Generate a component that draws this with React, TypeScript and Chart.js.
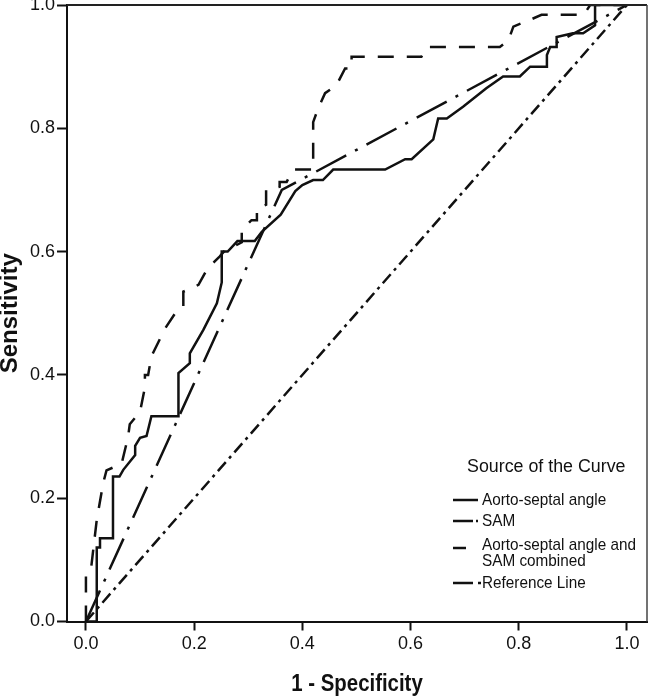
import React, { useEffect, useRef } from "react";
import { Chart, registerables } from "chart.js";

Chart.register(...registerables);

// ---- data ----
const xTickValues = [0, 0.2, 0.4, 0.6, 0.8, 1.0];
const yTickValues = [0, 0.2, 0.4, 0.6, 0.8, 1.0];

const xAxisTitle = "1 - Specificity";
const yAxisTitle = "Sensitivity";
const legendTitle = "Source of the Curve";
const legendLabels = ["Aorto-septal angle", "SAM", "Aorto-septal angle and\nSAM combined", "Reference Line"];

// Aorto-septal angle (solid)
const angleFpr = [0, 0.02, 0.02, 0.026, 0.026, 0.05, 0.05, 0.062, 0.069, 0.091, 0.091, 0.1, 0.112, 0.121, 0.171, 0.171, 0.192, 0.192, 0.217, 0.242, 0.251, 0.251, 0.262, 0.28, 0.312, 0.325, 0.36, 0.387, 0.4, 0.42, 0.438, 0.457, 0.553, 0.59, 0.602, 0.642, 0.651, 0.667, 0.697, 0.74, 0.771, 0.802, 0.821, 0.852, 0.852, 0.858, 0.87, 0.87, 0.9, 0.919, 0.941, 0.941, 1.0];
const angleTpr = [0, 0, 0.12, 0.12, 0.135, 0.135, 0.235, 0.235, 0.246, 0.27, 0.285, 0.298, 0.301, 0.333, 0.333, 0.403, 0.419, 0.435, 0.473, 0.516, 0.55, 0.6, 0.6, 0.617, 0.617, 0.632, 0.66, 0.698, 0.708, 0.716, 0.716, 0.733, 0.733, 0.75, 0.75, 0.782, 0.816, 0.816, 0.835, 0.865, 0.884, 0.884, 0.9, 0.9, 0.919, 0.932, 0.932, 0.948, 0.954, 0.954, 0.967, 1.0, 1.0];

// SAM (dash-dot)
const samFpr = [0, 0.362, 1.0];
const samTpr = [0, 0.7, 1.0];

// Aorto-septal angle and SAM combined (dashed)
const combinedFpr = [0, 0, 0.01, 0.02, 0.032, 0.038, 0.066, 0.078, 0.081, 0.1, 0.109, 0.109, 0.115, 0.121, 0.146, 0.165, 0.18, 0.18, 0.208, 0.223, 0.238, 0.247, 0.255, 0.288, 0.288, 0.306, 0.316, 0.316, 0.333, 0.333, 0.358, 0.358, 0.371, 0.383, 0.42, 0.42, 0.429, 0.442, 0.463, 0.479, 0.491, 0.491, 0.62, 0.63, 0.765, 0.781, 0.79, 0.821, 0.842, 0.92, 0.932, 1.0];
const combinedTpr = [0, 0.08, 0.09, 0.165, 0.225, 0.245, 0.256, 0.3, 0.32, 0.34, 0.38, 0.4, 0.4, 0.43, 0.475, 0.5, 0.508, 0.535, 0.546, 0.57, 0.584, 0.592, 0.6, 0.615, 0.635, 0.651, 0.651, 0.67, 0.676, 0.7, 0.705, 0.713, 0.713, 0.733, 0.733, 0.81, 0.832, 0.857, 0.87, 0.897, 0.897, 0.916, 0.916, 0.932, 0.932, 0.943, 0.965, 0.976, 0.984, 0.984, 1.0, 1.0];

// Reference line
const refFpr = [0, 1];
const refTpr = [0, 1];

// ---- styles ----
const SANS = "'Liberation Sans', Arial, Helvetica, sans-serif";
const INK = "#111";

const pts = (xs: number[], ys: number[]) => xs.map((x, i) => ({ x, y: ys[i] }));

const dashSolid: number[] = [];
const dashSam = [34, 10, 3, 10];
const dashCombined = [16, 13];
const dashRef = [12, 5, 3, 5];

// draw text horizontally condensed (the reference image is horizontally squeezed)
function squeezedText(ctx: any, text: string, x: number, y: number, sx: number) {
  ctx.save();
  ctx.translate(x, y);
  ctx.scale(sx, 1);
  ctx.fillText(text, 0, 0);
  ctx.restore();
}

const decorPlugin = {
  id: "decor",
  afterDraw(chart: any) {
    const { ctx, chartArea: a } = chart;
    ctx.save();
    // frame (top & right)
    ctx.setLineDash([]);
    ctx.strokeStyle = "#222";
    ctx.lineWidth = 2;
    ctx.beginPath();
    ctx.moveTo(a.left, a.top);
    ctx.lineTo(a.right, a.top);
    ctx.stroke();
    ctx.strokeStyle = "#444";
    ctx.lineWidth = 1.5;
    ctx.beginPath();
    ctx.moveTo(a.right, a.top);
    ctx.lineTo(a.right, a.bottom);
    ctx.stroke();

    // axis titles
    ctx.fillStyle = INK;
    ctx.textAlign = "center";
    ctx.textBaseline = "middle";
    ctx.font = `bold 24px ${SANS}`;
    squeezedText(ctx, xAxisTitle, (a.left + a.right) / 2, 684, 0.85);
    ctx.save();
    ctx.translate(10, (a.top + a.bottom) / 2);
    ctx.rotate(-Math.PI / 2);
    ctx.fillText(yAxisTitle, 0, 0);
    ctx.restore();

    // legend
    ctx.textAlign = "left";
    ctx.font = `18px ${SANS}`;
    squeezedText(ctx, legendTitle, 467, 467, 0.99);
    ctx.font = `17px ${SANS}`;
    const sx0 = 453;
    const sx1 = 478;
    const tx = 482;
    const rows = [
      { y: [500], sample: 500, dash: [] as number[], end: sx1 },
      { y: [521], sample: 521, dash: [20, 3, 2, 100], end: sx1 + 1 },
      { y: [545, 561], sample: 548, dash: [] as number[], end: sx0 + 13 },
      { y: [583], sample: 583, dash: [20, 5, 3, 100], end: sx1 + 3 },
    ];
    rows.forEach((r, i) => {
      ctx.strokeStyle = INK;
      ctx.lineWidth = 2.5;
      ctx.setLineDash(r.dash);
      ctx.beginPath();
      ctx.moveTo(sx0, r.sample);
      ctx.lineTo(r.end, r.sample);
      ctx.stroke();
      const lines = legendLabels[i].split("\n");
      lines.forEach((t, j) => squeezedText(ctx, t, tx, r.y[j], 0.9));
    });
    ctx.restore();
  },
};

export default function App() {
  const ref = useRef<HTMLCanvasElement | null>(null);
  useEffect(() => {
    if (!ref.current) return;
    const lineDs = (label: string, xs: number[], ys: number[], dash: number[]) => ({
      label,
      data: pts(xs, ys),
      showLine: true,
      borderColor: INK,
      backgroundColor: INK,
      borderWidth: 2.5,
      borderDash: dash,
      pointRadius: 0,
      tension: 0,
      fill: false,
    });
    const tickFont = { family: SANS, size: 18 };
    const chart = new Chart(ref.current, {
      type: "scatter",
      data: {
        datasets: [
          lineDs("Reference Line", refFpr, refTpr, dashRef),
          lineDs("SAM", samFpr, samTpr, dashSam),
          lineDs("Aorto-septal angle and SAM combined", combinedFpr, combinedTpr, dashCombined),
          lineDs("Aorto-septal angle", angleFpr, angleTpr, dashSolid),
        ],
      },
      options: {
        responsive: false,
        animation: false,
        layout: { padding: { top: 5, right: 3, left: 0, bottom: 0 } },
        plugins: { legend: { display: false }, tooltip: { enabled: false } },
        scales: {
          x: {
            type: "linear",
            min: -0.035,
            max: 1.037,
            afterBuildTicks: (s: any) => {
              s.ticks = xTickValues.map((v) => ({ value: v }));
            },
            afterFit: (s: any) => {
              s.height = 77.5;
              s.paddingLeft = 0;
              s.paddingRight = 0;
            },
            ticks: {
              callback: (v: any) => Number(v).toFixed(1),
              font: tickFont,
              color: INK,
              padding: 3,
              maxRotation: 0,
              autoSkip: false,
            },
            grid: { display: true, drawOnChartArea: false, drawTicks: true, tickLength: 9, tickWidth: 2, tickColor: INK },
            border: { display: true, width: 2, color: INK },
          },
          y: {
            type: "linear",
            min: 0,
            max: 1,
            afterBuildTicks: (s: any) => {
              s.ticks = yTickValues.map((v) => ({ value: v }));
            },
            afterFit: (s: any) => {
              s.width = 67;
              s.paddingTop = 0;
              s.paddingBottom = 0;
            },
            ticks: {
              callback: (v: any) => Number(v).toFixed(1),
              font: tickFont,
              color: INK,
              padding: 2,
              autoSkip: false,
            },
            grid: { display: true, drawOnChartArea: false, drawTicks: true, tickLength: 10, tickWidth: 2, tickColor: INK },
            border: { display: true, width: 2, color: INK },
          },
        },
      },
      plugins: [decorPlugin],
    });
    return () => chart.destroy();
  }, []);
  return (
    <div style={{ position: "absolute", left: 0, top: 0, width: 650, height: 699, background: "#fff" }}>
      <canvas ref={ref} width={650} height={699} style={{ display: "block" }} />
    </div>
  );
}
